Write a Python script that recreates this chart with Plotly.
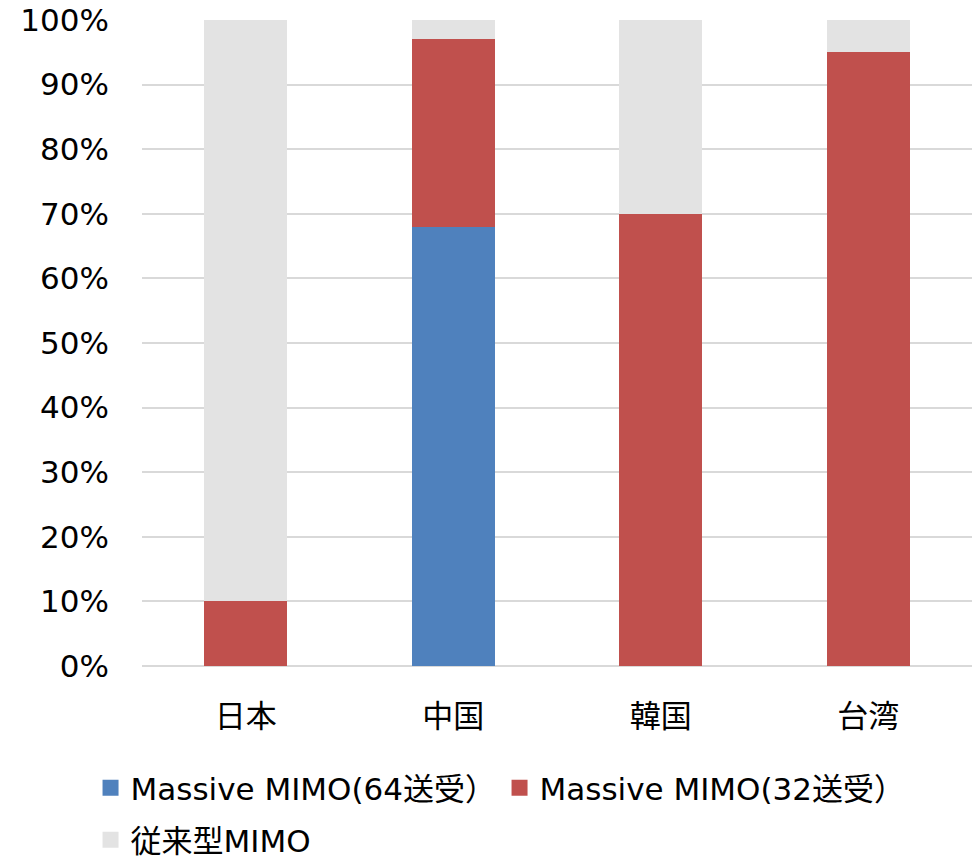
import plotly.graph_objects as go

# Share of base-station antenna types by market (%)
countries = ["日本", "中国", "韓国", "台湾"]
mimo64 = [0, 68, 0, 0]
mimo32 = [10, 29, 70, 95]
conventional = [90, 3, 30, 5]

series_names = ["Massive MIMO(64送受）", "Massive MIMO(32送受）", "従来型MIMO"]
colors = ["#4F81BD", "#C0504D", "#E3E3E3"]
legend_ids = ["legend", "legend", "legend2"]
y_ticks = [0, 10, 20, 30, 40, 50, 60, 70, 80, 90, 100]
y_tick_text = [f"{v}%" for v in y_ticks]

FONT = "Verdana, 'DejaVu Sans', 'Noto Sans CJK JP', sans-serif"
FS = 31

fig = go.Figure()
for name, vals, col, lg in zip(series_names, [mimo64, mimo32, conventional], colors, legend_ids):
    fig.add_trace(go.Bar(x=countries, y=vals, name=name, marker_color=col,
                         marker_line_width=0, showlegend=False))
    # larger square swatch for the legend entry
    fig.add_trace(go.Scatter(x=[None], y=[None], mode="markers", name=name, legend=lg,
                             marker=dict(symbol="square", size=18, color=col)))

legend_common = dict(orientation="h", xanchor="left", yanchor="middle",
                     entrywidth=364, entrywidthmode="pixels", itemwidth=30,
                     traceorder="normal", font=dict(size=FS),
                     bgcolor="rgba(0,0,0,0)")

fig.update_layout(
    barmode="stack",
    bargap=0.6,
    width=972, height=859,
    margin=dict(l=142, r=0, t=20, b=193, autoexpand=False),
    plot_bgcolor="white", paper_bgcolor="white",
    font=dict(family=FONT, size=FS, color="#000000"),
    xaxis=dict(showgrid=False, showline=False, ticks="", ticklabelstandoff=29,
               tickfont=dict(size=FS)),
    yaxis=dict(range=[0, 100], tickvals=y_ticks, ticktext=y_tick_text,
               showgrid=True, gridcolor="#D9D9D9", gridwidth=2,
               zeroline=True, zerolinecolor="#D9D9D9", zerolinewidth=2,
               ticks="", ticklabelstandoff=32, tickfont=dict(size=FS)),
    legend=dict(x=-0.062, y=-0.189, **legend_common),
    legend2=dict(x=-0.062, y=-0.2695, **legend_common),
)

fig.write_html("out.html")
